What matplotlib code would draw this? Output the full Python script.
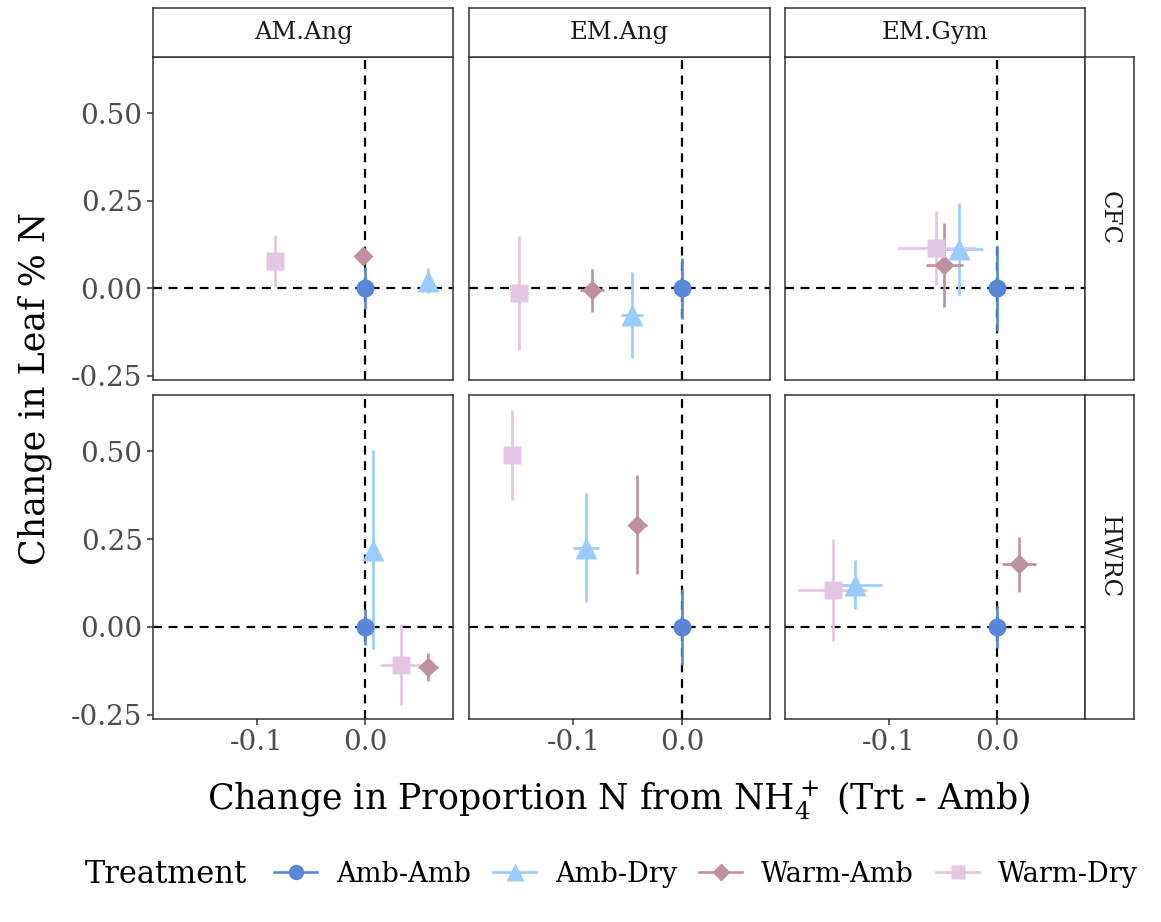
# Leaf %N change vs change in NH4+ proportion, faceted by site and mycorrhizal group
import matplotlib
matplotlib.use('Agg')
import matplotlib.pyplot as plt
from matplotlib.lines import Line2D

plt.rcParams['font.family'] = 'DejaVu Serif'
plt.rcParams['mathtext.fontset'] = 'dejavuserif'

sites = ["CFC", "HWRC"]
groups = ["AM.Ang", "EM.Ang", "EM.Gym"]
treatments = ["Amb-Amb", "Amb-Dry", "Warm-Amb", "Warm-Dry"]
colors = ["#5886d9", "#99ccff", "#bf909e", "#e2c6e2"]
markers = ["o", "^", "D", "s"]

# panels in order: CFC AM.Ang, CFC EM.Ang, CFC EM.Gym, HWRC AM.Ang, HWRC EM.Ang, HWRC EM.Gym
x_mean = {
    "Amb-Amb":  [0.0, 0.0, 0.0, 0.0, 0.0, 0.0],
    "Amb-Dry":  [0.058, -0.046, -0.035, 0.0074, -0.088, -0.131],
    "Warm-Amb": [-0.002, -0.083, -0.049, 0.058, -0.041, 0.020],
    "Warm-Dry": [-0.083, -0.150, -0.057, 0.033, -0.156, -0.152],
}
x_se = {
    "Amb-Amb":  [0.0, 0.0, 0.0, 0.0, 0.0, 0.0],
    "Amb-Dry":  [0.004, 0.010, 0.022, 0.004, 0.012, 0.025],
    "Warm-Amb": [0.004, 0.011, 0.017, 0.009, 0.009, 0.016],
    "Warm-Dry": [0.005, 0.008, 0.036, 0.019, 0.005, 0.032],
}
y_mean = {
    "Amb-Amb":  [0.0, 0.0, 0.0, 0.0, 0.0, 0.0],
    "Amb-Dry":  [0.022, -0.077, 0.112, 0.220, 0.226, 0.120],
    "Warm-Amb": [0.092, -0.006, 0.067, -0.114, 0.291, 0.178],
    "Warm-Dry": [0.078, -0.014, 0.114, -0.108, 0.490, 0.105],
}
y_se = {
    "Amb-Amb":  [0.060, 0.087, 0.121, 0.050, 0.107, 0.060],
    "Amb-Dry":  [0.035, 0.122, 0.132, 0.283, 0.155, 0.070],
    "Warm-Amb": [0.005, 0.062, 0.120, 0.040, 0.140, 0.079],
    "Warm-Dry": [0.075, 0.162, 0.105, 0.115, 0.128, 0.145],
}
msizes = {"o": 13, "^": 16, "D": 10.5, "s": 12.5}

W, H = 1161, 922
fig = plt.figure(figsize=(W / 100, H / 100), dpi=100)


def box(l, t, r, b):
    return [l / W, 1 - b / H, (r - l) / W, (b - t) / H]


cols = [(153, 453), (469, 770), (785, 1085)]
rows = [(57, 380), (395, 719)]
tick_col = '#4d4d4d'

for i, site in enumerate(sites):
    for j, grp in enumerate(groups):
        p = i * 3 + j
        ax = fig.add_axes(box(cols[j][0], rows[i][0], cols[j][1], rows[i][1]))
        ax.axhline(0, color='black', ls=(0, (4, 3)), lw=1.6, zorder=1)
        ax.axvline(0, color='black', ls=(0, (4, 3)), lw=1.6, zorder=1)
        for k, t in enumerate(treatments):
            ax.errorbar(x_mean[t][p], y_mean[t][p], xerr=x_se[t][p], yerr=y_se[t][p],
                        fmt='none', ecolor=colors[k], elinewidth=1.9, capsize=0, zorder=2)
        for k, t in enumerate(treatments):
            ax.plot(x_mean[t][p], y_mean[t][p], marker=markers[k], color=colors[k],
                    ms=msizes[markers[k]], ls='none', mec='none', zorder=3)
        ax.set_xlim(-0.196, 0.081)
        ax.set_ylim(-0.262, 0.66)
        ax.set_xticks([-0.1, 0.0])
        ax.set_yticks([-0.25, 0.0, 0.25, 0.5])
        ax.tick_params(colors='#333333', length=4, width=1.1, labelcolor=tick_col, labelsize=20)
        if i == 1:
            ax.set_xticklabels(["-0.1", "0.0"])
        else:
            ax.set_xticklabels([])
            ax.tick_params(axis='x', length=0)
        if j == 0:
            ax.set_yticklabels(["-0.25", "0.00", "0.25", "0.50"])
        else:
            ax.set_yticklabels([])
            ax.tick_params(axis='y', length=0)
        for s in ax.spines.values():
            s.set_color('#333333')
            s.set_linewidth(1.1)

        # facet strips
        if i == 0:
            sax = fig.add_axes(box(cols[j][0], 8, cols[j][1], 57))
            sax.set_xticks([])
            sax.set_yticks([])
            for s in sax.spines.values():
                s.set_color('#333333')
                s.set_linewidth(1.1)
            sax.text(0.5, 0.5, grp, ha='center', va='center', fontsize=17.5, color='#1a1a1a')
        if j == 2:
            sax = fig.add_axes(box(1085, rows[i][0], 1134, rows[i][1]))
            sax.set_xticks([])
            sax.set_yticks([])
            for s in sax.spines.values():
                s.set_color('#333333')
                s.set_linewidth(1.1)
            sax.text(0.5, 0.5, site, ha='center', va='center', fontsize=17.5,
                     rotation=-90, color='#1a1a1a')

fig.text(619 / W, 1 - 800 / H, r'Change in Proportion N from NH$_4^+$ (Trt - Amb)',
         ha='center', va='center', fontsize=25)
fig.text(35 / W, 1 - 388 / H, 'Change in Leaf % N', ha='center', va='center',
         rotation=90, fontsize=25)

# legend at the bottom
fig.text(85 / W, 1 - 874 / H, 'Treatment', ha='left', va='center', fontsize=22)
handles = [Line2D([0], [0], color=colors[k], marker=markers[k], ms=msizes[markers[k]] * 0.85,
                  mec='none', lw=1.9) for k in range(4)]
fig.legend(handles, treatments, loc='center left', bbox_to_anchor=(274 / W, 1 - 874 / H),
           ncol=4, frameon=False, fontsize=19.5, handlelength=1.6, handletextpad=0.7,
           columnspacing=0.8, borderaxespad=0, borderpad=0)

fig.savefig('out.png', dpi=100)
